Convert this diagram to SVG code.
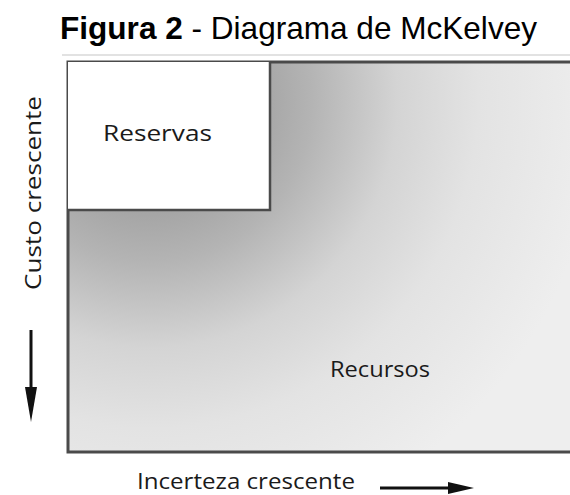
<svg xmlns="http://www.w3.org/2000/svg" width="570" height="495" viewBox="0 0 570 495">
<style>
.t{font-family:"Open Sans","Liberation Sans",sans-serif;fill:#1a1a1a;font-size:21px}
.title{font-family:"Liberation Sans",Arial,sans-serif;font-size:32px;fill:#000}
.edge{stroke:#4a4a4a;fill:none}
.ax{stroke:#111;stroke-width:3;fill:none}
.head{fill:#111}
</style>
<defs>
<radialGradient id="g" gradientUnits="userSpaceOnUse" cx="150" cy="100" r="450">
<stop offset="0" stop-color="#9a9a9a"/>
<stop offset="0.24" stop-color="#a4a4a4"/>
<stop offset="0.36" stop-color="#b4b4b4"/>
<stop offset="0.55" stop-color="#d4d4d4"/>
<stop offset="0.73" stop-color="#e3e3e3"/>
<stop offset="1" stop-color="#eeeeee"/>
</radialGradient>
</defs>
<rect width="570" height="495" fill="#fff"/>
<text class="title" x="60" y="39" textLength="477" lengthAdjust="spacingAndGlyphs"><tspan font-weight="bold">Figura 2</tspan> - Diagrama de McKelvey</text>
<line x1="62" y1="55" x2="570" y2="55" stroke="#e2e2e2" stroke-width="2"/>
<g id="recursos">
<rect x="68" y="62" width="504" height="390" fill="url(#g)"/>
<path class="edge" d="M572,62 H68 V452 H572" stroke-width="3"/>
<text class="t" x="330" y="377" textLength="100" lengthAdjust="spacingAndGlyphs">Recursos</text>
</g>
<g id="reservas">
<rect x="68" y="62" width="202" height="148" fill="#fff"/>
<path class="edge" d="M270,62 V210 H68" stroke-width="2.5"/>
<text class="t" x="103" y="141" textLength="109" lengthAdjust="spacingAndGlyphs">Reservas</text>
</g>
<g id="connectors">
<line class="ax" x1="31" y1="330" x2="31" y2="392"/>
<polygon class="head" points="25,387 37,387 31,422"/>
<line class="ax" x1="380" y1="488" x2="452" y2="488"/>
<polygon class="head" points="448,482 448,494 474,488"/>
</g>
<g id="labels">
<text class="t" transform="translate(41,290) rotate(-90)" textLength="194" lengthAdjust="spacingAndGlyphs">Custo crescente</text>
<text class="t" x="137" y="489" textLength="218" lengthAdjust="spacingAndGlyphs">Incerteza crescente</text>
</g>
</svg>
